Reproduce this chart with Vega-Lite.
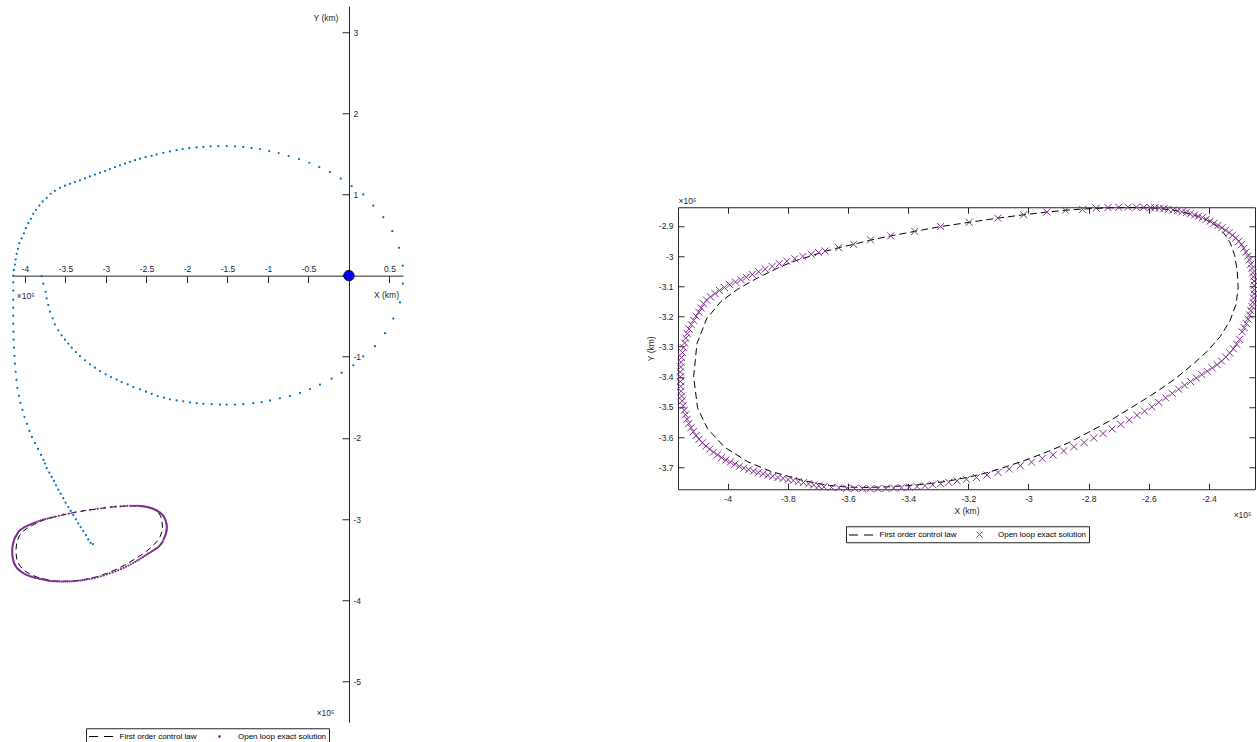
{
"$schema": "https://vega.github.io/schema/vega-lite/v6.json",
"background": "white",
"padding": {"left": 11, "top": 6, "right": 0, "bottom": 0},
"config": {"font": "Liberation Sans", "view": {"stroke": null}, "axis": {"grid": false, "labelFont": "Liberation Sans", "titleFont": "Liberation Sans", "labelColor": "#262626", "titleColor": "#262626", "domainColor": "#262626", "tickColor": "#262626", "labelFontSize": 8.5, "titleFontSize": 8.5, "titleFontWeight": "normal", "labelFlush": false, "labelOverlap": false, "domainWidth": 1, "tickWidth": 1, "format": ".2~f"}},
"datasets": {
"traj": [
{"x":-3.794,"y":-0.005},{"x":-3.774,"y":-0.099},{"x":-3.745,"y":-0.2},{"x":-3.733,"y":-0.282},{"x":-3.712,"y":-0.362},{"x":-3.691,"y":-0.444},{"x":-3.658,"y":-0.527},{"x":-3.63,"y":-0.6},{"x":-3.589,"y":-0.674},{"x":-3.547,"y":-0.736},{"x":-3.506,"y":-0.789},{"x":-3.465,"y":-0.838},{"x":-3.423,"y":-0.888},{"x":-3.37,"y":-0.942},{"x":-3.321,"y":-0.992},{"x":-3.259,"y":-1.044},{"x":-3.198,"y":-1.094},{"x":-3.136,"y":-1.135},{"x":-3.074,"y":-1.176},{"x":-3.004,"y":-1.217},{"x":-2.938,"y":-1.25},{"x":-2.868,"y":-1.282},{"x":-2.806,"y":-1.312},{"x":-2.732,"y":-1.34},{"x":-2.663,"y":-1.373},{"x":-2.58,"y":-1.402},{"x":-2.506,"y":-1.43},{"x":-2.436,"y":-1.459},{"x":-2.362,"y":-1.484},{"x":-2.284,"y":-1.504},{"x":-2.21,"y":-1.525},{"x":-2.128,"y":-1.538},{"x":-2.046,"y":-1.55},{"x":-1.963,"y":-1.564},{"x":-1.88,"y":-1.573},{"x":-1.798,"y":-1.58},{"x":-1.695,"y":-1.585},{"x":-1.593,"y":-1.589},{"x":-1.51,"y":-1.591},{"x":-1.407,"y":-1.59},{"x":-1.305,"y":-1.584},{"x":-1.181,"y":-1.572},{"x":-1.078,"y":-1.558},{"x":-0.975,"y":-1.538},{"x":-0.852,"y":-1.512},{"x":-0.728,"y":-1.484},{"x":-0.605,"y":-1.446},{"x":-0.481,"y":-1.398},{"x":-0.358,"y":-1.344},{"x":-0.214,"y":-1.27},{"x":-0.09,"y":-1.196},{"x":0.053,"y":-1.106},{"x":0.177,"y":-0.995},{"x":0.321,"y":-0.87},{"x":0.444,"y":-0.71},{"x":0.547,"y":-0.53},{"x":0.63,"y":-0.33},{"x":0.665,"y":-0.099},
{"x":0.663,"y":0.123},{"x":0.617,"y":0.342},{"x":0.535,"y":0.547},{"x":0.424,"y":0.72},{"x":0.3,"y":0.864},{"x":0.177,"y":1.0},{"x":0.033,"y":1.102},{"x":-0.102,"y":1.194},{"x":-0.235,"y":1.276},{"x":-0.367,"y":1.337},{"x":-0.49,"y":1.391},{"x":-0.617,"y":1.436},{"x":-0.745,"y":1.473},{"x":-0.868,"y":1.51},{"x":-0.984,"y":1.535},{"x":-1.099,"y":1.56},{"x":-1.202,"y":1.574},{"x":-1.305,"y":1.586},{"x":-1.407,"y":1.593},{"x":-1.51,"y":1.596},{"x":-1.613,"y":1.596},{"x":-1.708,"y":1.593},{"x":-1.798,"y":1.587},{"x":-1.881,"y":1.58},{"x":-1.971,"y":1.57},{"x":-2.053,"y":1.56},{"x":-2.128,"y":1.546},{"x":-2.21,"y":1.531},{"x":-2.292,"y":1.514},{"x":-2.374,"y":1.494},{"x":-2.436,"y":1.477},{"x":-2.51,"y":1.46},{"x":-2.58,"y":1.441},{"x":-2.642,"y":1.423},{"x":-2.704,"y":1.402},{"x":-2.765,"y":1.381},{"x":-2.827,"y":1.359},{"x":-2.889,"y":1.337},{"x":-2.951,"y":1.313},{"x":-3.012,"y":1.289},{"x":-3.074,"y":1.267},{"x":-3.136,"y":1.246},{"x":-3.198,"y":1.222},{"x":-3.259,"y":1.199},{"x":-3.321,"y":1.175},{"x":-3.383,"y":1.153},{"x":-3.444,"y":1.131},{"x":-3.506,"y":1.109},{"x":-3.568,"y":1.083},{"x":-3.63,"y":1.045},
{"x":-3.683,"y":1.009},{"x":-3.732,"y":0.959},{"x":-3.781,"y":0.914},{"x":-3.823,"y":0.864},{"x":-3.864,"y":0.811},{"x":-3.898,"y":0.762},{"x":-3.926,"y":0.7},{"x":-3.959,"y":0.646},{"x":-3.988,"y":0.584},{"x":-4.012,"y":0.522},{"x":-4.041,"y":0.46},{"x":-4.07,"y":0.399},{"x":-4.086,"y":0.33},{"x":-4.102,"y":0.268},{"x":-4.115,"y":0.201},{"x":-4.123,"y":0.136},{"x":-4.136,"y":0.07},{"x":-4.144,"y":0.0},{"x":-4.144,"y":-0.083},{"x":-4.144,"y":-0.185},{"x":-4.144,"y":-0.296},{"x":-4.144,"y":-0.395},{"x":-4.144,"y":-0.494},{"x":-4.144,"y":-0.593},{"x":-4.142,"y":-0.691},{"x":-4.14,"y":-0.79},{"x":-4.136,"y":-0.889},{"x":-4.13,"y":-0.988},{"x":-4.123,"y":-1.086},{"x":-4.115,"y":-1.185},{"x":-4.105,"y":-1.284},{"x":-4.093,"y":-1.383},{"x":-4.074,"y":-1.481},{"x":-4.056,"y":-1.568},{"x":-4.031,"y":-1.654},{"x":-4.006,"y":-1.741},{"x":-3.975,"y":-1.827},{"x":-3.944,"y":-1.914},{"x":-3.914,"y":-1.988},{"x":-3.877,"y":-2.062},{"x":-3.84,"y":-2.136},{"x":-3.802,"y":-2.21},{"x":-3.772,"y":-2.272},{"x":-3.753,"y":-2.317},{"x":-3.732,"y":-2.374},{"x":-3.7,"y":-2.428},{"x":-3.67,"y":-2.481},{"x":-3.642,"y":-2.531},{"x":-3.617,"y":-2.584},{"x":-3.589,"y":-2.638},{"x":-3.559,"y":-2.688},{"x":-3.527,"y":-2.744},{"x":-3.498,"y":-2.799},{"x":-3.465,"y":-2.852},{"x":-3.436,"y":-2.901},{"x":-3.404,"y":-2.951},{"x":-3.37,"y":-3.004},{"x":-3.342,"y":-3.053},{"x":-3.312,"y":-3.099},{"x":-3.28,"y":-3.148},{"x":-3.247,"y":-3.198},{"x":-3.219,"y":-3.251},{"x":-3.189,"y":-3.293},{"x":-3.16,"y":-3.309}
],
"ctrl": [
{"i":0,"x":-3.678,"y":-2.985},{"i":1,"x":-3.631,"y":-2.972},{"i":2,"x":-3.581,"y":-2.961},{"i":3,"x":-3.525,"y":-2.947},{"i":4,"x":-3.458,"y":-2.933},{"i":5,"x":-3.378,"y":-2.918},{"i":6,"x":-3.292,"y":-2.902},{"i":7,"x":-3.197,"y":-2.888},{"i":8,"x":-3.102,"y":-2.874},{"i":9,"x":-3.016,"y":-2.863},{"i":10,"x":-2.939,"y":-2.854},{"i":11,"x":-2.877,"y":-2.848},{"i":12,"x":-2.82,"y":-2.844},{"i":13,"x":-2.736,"y":-2.84},{"i":14,"x":-2.65,"y":-2.839},{"i":15,"x":-2.58,"y":-2.841},{"i":16,"x":-2.52,"y":-2.847},{"i":17,"x":-2.46,"y":-2.86},{"i":18,"x":-2.411,"y":-2.878},{"i":19,"x":-2.375,"y":-2.9},{"i":20,"x":-2.35,"y":-2.925},{"i":21,"x":-2.33,"y":-2.955},{"i":22,"x":-2.315,"y":-2.995},{"i":23,"x":-2.306,"y":-3.049},{"i":24,"x":-2.303,"y":-3.105},{"i":25,"x":-2.31,"y":-3.16},{"i":26,"x":-2.33,"y":-3.214},{"i":27,"x":-2.362,"y":-3.266},{"i":28,"x":-2.405,"y":-3.315},{"i":29,"x":-2.455,"y":-3.36},{"i":30,"x":-2.51,"y":-3.405},{"i":31,"x":-2.57,"y":-3.447},{"i":32,"x":-2.633,"y":-3.487},{"i":33,"x":-2.689,"y":-3.521},{"i":34,"x":-2.733,"y":-3.548},{"i":35,"x":-2.8,"y":-3.584},{"i":36,"x":-2.867,"y":-3.619},{"i":37,"x":-2.933,"y":-3.647},{"i":38,"x":-3.0,"y":-3.673},{"i":39,"x":-3.067,"y":-3.696},{"i":40,"x":-3.133,"y":-3.717},{"i":41,"x":-3.2,"y":-3.733},{"i":42,"x":-3.267,"y":-3.746},{"i":43,"x":-3.333,"y":-3.755},{"i":44,"x":-3.4,"y":-3.761},{"i":45,"x":-3.467,"y":-3.765},{"i":46,"x":-3.533,"y":-3.767},{"i":47,"x":-3.6,"y":-3.766},{"i":48,"x":-3.667,"y":-3.76},{"i":49,"x":-3.745,"y":-3.745},{"i":50,"x":-3.856,"y":-3.714},{"i":51,"x":-3.933,"y":-3.682},{"i":52,"x":-4.011,"y":-3.633},{"i":53,"x":-4.067,"y":-3.572},{"i":54,"x":-4.1,"y":-3.503},{"i":55,"x":-4.113,"y":-3.4},{"i":56,"x":-4.102,"y":-3.29},{"i":57,"x":-4.07,"y":-3.208},{"i":58,"x":-4.022,"y":-3.15},{"i":59,"x":-3.967,"y":-3.11},{"i":60,"x":-3.9,"y":-3.072},{"i":61,"x":-3.822,"y":-3.034},{"i":62,"x":-3.767,"y":-3.013},{"i":63,"x":-3.678,"y":-2.985}
],
"exact": [
{"x":-3.676,"y":-2.983},{"x":-3.631,"y":-2.972},{"x":-3.581,"y":-2.961},{"x":-3.525,"y":-2.946},{"x":-3.458,"y":-2.933},{"x":-3.378,"y":-2.918},{"x":-3.292,"y":-2.902},{"x":-3.197,"y":-2.888},{"x":-3.102,"y":-2.874},{"x":-3.016,"y":-2.863},{"x":-2.939,"y":-2.854},{"x":-2.877,"y":-2.848},{"x":-2.82,"y":-2.845},{"x":-2.775,"y":-2.841},{"x":-2.736,"y":-2.839},{"x":-2.7,"y":-2.838},{"x":-2.669,"y":-2.838},{"x":-2.641,"y":-2.838},{"x":-2.617,"y":-2.838},{"x":-2.595,"y":-2.839},
{"x":-2.58,"y":-2.84},{"x":-2.565,"y":-2.841},{"x":-2.55,"y":-2.843},{"x":-2.535,"y":-2.845},{"x":-2.52,"y":-2.847},{"x":-2.505,"y":-2.85},{"x":-2.49,"y":-2.853},{"x":-2.476,"y":-2.856},{"x":-2.462,"y":-2.86},{"x":-2.448,"y":-2.864},{"x":-2.435,"y":-2.868},{"x":-2.422,"y":-2.872},{"x":-2.409,"y":-2.878},{"x":-2.396,"y":-2.884},{"x":-2.383,"y":-2.891},{"x":-2.37,"y":-2.898},{"x":-2.357,"y":-2.906},{"x":-2.345,"y":-2.914},{"x":-2.333,"y":-2.922},{"x":-2.322,"y":-2.931},{"x":-2.311,"y":-2.94},{"x":-2.301,"y":-2.951},{"x":-2.292,"y":-2.962},{"x":-2.284,"y":-2.974},{"x":-2.277,"y":-2.987},{"x":-2.271,"y":-3.0},{"x":-2.266,"y":-3.013},{"x":-2.261,"y":-3.027},{"x":-2.257,"y":-3.041},{"x":-2.254,"y":-3.055},{"x":-2.252,"y":-3.069},{"x":-2.25,"y":-3.083},{"x":-2.249,"y":-3.097},{"x":-2.249,"y":-3.111},{"x":-2.25,"y":-3.125},{"x":-2.252,"y":-3.139},{"x":-2.254,"y":-3.153},{"x":-2.257,"y":-3.167},{"x":-2.261,"y":-3.181},{"x":-2.265,"y":-3.195},{"x":-2.27,"y":-3.209},{"x":-2.276,"y":-3.223},{"x":-2.283,"y":-3.237},{"x":-2.29,"y":-3.251},
{"x":-2.298,"y":-3.276},{"x":-2.308,"y":-3.292},{"x":-2.319,"y":-3.307},{"x":-2.331,"y":-3.321},{"x":-2.344,"y":-3.335},{"x":-2.358,"y":-3.348},{"x":-2.373,"y":-3.36},{"x":-2.389,"y":-3.371},{"x":-2.406,"y":-3.382},{"x":-2.424,"y":-3.393},{"x":-2.442,"y":-3.404},{"x":-2.461,"y":-3.416},{"x":-2.481,"y":-3.428},{"x":-2.501,"y":-3.441},{"x":-2.522,"y":-3.455},{"x":-2.544,"y":-3.47},{"x":-2.567,"y":-3.485},{"x":-2.59,"y":-3.5},{"x":-2.614,"y":-3.514},{"x":-2.639,"y":-3.528},{"x":-2.665,"y":-3.543},{"x":-2.693,"y":-3.558},{"x":-2.722,"y":-3.573},{"x":-2.752,"y":-3.588},{"x":-2.783,"y":-3.603},{"x":-2.815,"y":-3.618},{"x":-2.849,"y":-3.632},{"x":-2.883,"y":-3.646},{"x":-2.918,"y":-3.659},{"x":-2.954,"y":-3.671},{"x":-2.99,"y":-3.683},{"x":-3.027,"y":-3.695},{"x":-3.064,"y":-3.706},{"x":-3.101,"y":-3.717},{"x":-3.138,"y":-3.726},{"x":-3.173,"y":-3.734},{"x":-3.206,"y":-3.74},{"x":-3.237,"y":-3.745},
{"x":-3.265,"y":-3.75},{"x":-3.292,"y":-3.754},{"x":-3.318,"y":-3.758},{"x":-3.344,"y":-3.761},{"x":-3.37,"y":-3.764},{"x":-3.396,"y":-3.766},{"x":-3.422,"y":-3.768},{"x":-3.448,"y":-3.769},{"x":-3.474,"y":-3.77},{"x":-3.5,"y":-3.771},{"x":-3.526,"y":-3.771},{"x":-3.552,"y":-3.771},{"x":-3.578,"y":-3.77},{"x":-3.604,"y":-3.77},{"x":-3.63,"y":-3.768},{"x":-3.655,"y":-3.767},{"x":-3.68,"y":-3.765},
{"x":-3.697,"y":-3.762},{"x":-3.714,"y":-3.759},{"x":-3.731,"y":-3.755},{"x":-3.748,"y":-3.751},{"x":-3.765,"y":-3.748},{"x":-3.782,"y":-3.744},{"x":-3.799,"y":-3.741},{"x":-3.816,"y":-3.737},{"x":-3.833,"y":-3.734},{"x":-3.85,"y":-3.73},{"x":-3.866,"y":-3.727},{"x":-3.882,"y":-3.722},{"x":-3.898,"y":-3.718},{"x":-3.914,"y":-3.713},{"x":-3.93,"y":-3.708},{"x":-3.946,"y":-3.703},{"x":-3.961,"y":-3.697},{"x":-3.976,"y":-3.69},{"x":-3.991,"y":-3.683},{"x":-4.006,"y":-3.676},{"x":-4.02,"y":-3.668},{"x":-4.034,"y":-3.659},{"x":-4.047,"y":-3.65},{"x":-4.06,"y":-3.64},{"x":-4.072,"y":-3.63},{"x":-4.084,"y":-3.619},{"x":-4.095,"y":-3.607},{"x":-4.105,"y":-3.595},{"x":-4.114,"y":-3.582},{"x":-4.122,"y":-3.569},{"x":-4.129,"y":-3.555},{"x":-4.135,"y":-3.541},{"x":-4.14,"y":-3.526},{"x":-4.144,"y":-3.511},{"x":-4.148,"y":-3.496},{"x":-4.151,"y":-3.48},{"x":-4.153,"y":-3.464},{"x":-4.155,"y":-3.448},{"x":-4.156,"y":-3.432},{"x":-4.157,"y":-3.416},{"x":-4.157,"y":-3.4},{"x":-4.157,"y":-3.384},{"x":-4.156,"y":-3.368},{"x":-4.155,"y":-3.352},{"x":-4.153,"y":-3.336},{"x":-4.15,"y":-3.32},{"x":-4.147,"y":-3.304},{"x":-4.143,"y":-3.288},{"x":-4.139,"y":-3.272},{"x":-4.134,"y":-3.257},{"x":-4.128,"y":-3.242},{"x":-4.121,"y":-3.227},{"x":-4.113,"y":-3.213},{"x":-4.105,"y":-3.199},{"x":-4.096,"y":-3.186},{"x":-4.088,"y":-3.172},{"x":-4.08,"y":-3.158},{"x":-4.07,"y":-3.146},{"x":-4.057,"y":-3.135},{"x":-4.042,"y":-3.124},{"x":-4.027,"y":-3.114},{"x":-4.011,"y":-3.104},{"x":-3.993,"y":-3.095},{"x":-3.974,"y":-3.086},{"x":-3.956,"y":-3.078},{"x":-3.938,"y":-3.07},{"x":-3.918,"y":-3.061},{"x":-3.897,"y":-3.052},{"x":-3.875,"y":-3.043},{"x":-3.852,"y":-3.034},{"x":-3.828,"y":-3.025},{"x":-3.803,"y":-3.017},{"x":-3.777,"y":-3.009},{"x":-3.75,"y":-3.001},{"x":-3.722,"y":-2.994},{"x":-3.698,"y":-2.988}
]
},
"spacing": 242,
"center": true,
"resolve": {"scale": {"color": "independent", "x": "independent", "y": "independent"}, "legend": {"color": "independent"}},
"hconcat": [
{
"width": 391, "height": 716,
"view": {"stroke": null},
"encoding": {
 "x": {"field": "x", "type": "quantitative", "scale": {"domain": [-4.16, 0.667], "nice": false, "zero": false},
   "axis": {"orient": "bottom", "offset": -446.6, "values": [-4,-3.5,-3,-2.5,-2,-1.5,-1,-0.5,0,0.5], "format": ".1~f", "labelExpr": "datum.value == 0 ? '' : replace(datum.label, '\u2212', '-')", "tickSize": 7, "labelPadding": -11, "labelBaseline": "alphabetic", "title": "X (km)", "titleX": 374, "titleY": 19, "titleAlign": "center", "titleBaseline": "middle", "titleAngle": 0}},
 "y": {"field": "y", "type": "quantitative", "scale": {"domain": [-5.505, 3.32], "nice": false, "zero": false},
   "axis": {"orient": "left", "offset": -337, "values": [-5,-4,-3,-2,-1,0,1,2,3], "format": ".1~f", "labelExpr": "datum.value == 0 ? '' : replace(datum.label, '\u2212', '-')", "tickSize": 7, "labelPadding": -11, "labelAlign": "left", "labelBaseline": "middle", "title": "Y (km)", "titleX": -23.5, "titleY": 11, "titleAlign": "center", "titleBaseline": "middle", "titleAngle": 0}}
},
"layer": [
 {"data": {"name": "traj"}, "mark": {"type": "point", "filled": true, "shape": "circle", "size": 5, "opacity": 1, "color": "#0072BD"}},
 {"data": {"name": "ctrl"}, "mark": {"type": "line", "strokeDash": [6, 4], "strokeWidth": 1},
  "encoding": {"order": {"field": "i"},
   "color": {"datum": "First order control law", "scale": {"domain": ["First order control law", "Open loop exact solution"], "range": ["#000000", "#7E2F8E"]},
     "legend": {"orient": "none", "legendX": 74, "legendY": 722, "direction": "horizontal", "title": null, "strokeColor": "#262626", "fillColor": "white", "padding": 2.5, "labelFontSize": 8, "labelFont": "Liberation Sans", "labelColor": "#000000", "symbolSize": 100, "labelOffset": 20, "columnPadding": 10.5,
       "encode": {"symbols": {"update": {
         "shape": {"signal": "datum.value === 'First order control law' ? 'M-1,0H0.8M2,0H3.8' : 'M1.6,0A0.2,0.2,0,1,1,1.2,0A0.2,0.2,0,1,1,1.6,0Z'"},
         "stroke": {"signal": "datum.value === 'First order control law' ? '#000000' : '#7E2F8E'"},
         "fill": {"signal": "datum.value === 'First order control law' ? 'transparent' : '#7E2F8E'"},
         "strokeWidth": {"value": 1}, "strokeDash": {"value": []}, "opacity": {"value": 1}}}}}}}},
 {"data": {"name": "exact"}, "mark": {"type": "point", "filled": true, "shape": "circle", "size": 5, "opacity": 1},
  "encoding": {"color": {"datum": "Open loop exact solution"}}},
 {"data": {"values": [{"x": 0, "y": 0}]}, "mark": {"type": "point", "filled": true, "shape": "circle", "size": 110, "opacity": 1, "fill": "#0000FF", "stroke": "#000000", "strokeWidth": 0.8}},
 {"data": {"values": [{"x": -4.1, "y": -0.255, "t": "×10⁵"}, {"x": -0.399, "y": -5.393, "t": "×10⁵"}]},
  "mark": {"type": "text", "align": "left", "baseline": "middle", "fontSize": 8.5, "color": "#262626"},
  "encoding": {"text": {"field": "t"}}}
]
},
{
"width": 577, "height": 282,
"view": {"stroke": null},
"resolve": {"axis": {"x": "independent", "y": "independent"}},
"layer": [
 {"data": {"name": "ctrl"}, "mark": {"type": "line", "strokeDash": [7, 4], "strokeWidth": 1},
  "encoding": {
   "x": {"field": "x", "type": "quantitative", "scale": {"domain": [-4.165, -2.247], "nice": false, "zero": false},
     "axis": {"orient": "bottom", "values": [-4,-3.8,-3.6,-3.4,-3.2,-3,-2.8,-2.6,-2.4], "format": ".1~f", "labelExpr": "replace(datum.label, '\u2212', '-')", "tickSize": -6, "labelPadding": 11, "title": "X (km)", "titlePadding": 4}},
   "y": {"field": "y", "type": "quantitative", "scale": {"domain": [-3.773, -2.838], "nice": false, "zero": false},
     "axis": {"orient": "left", "values": [-3.7,-3.6,-3.5,-3.4,-3.3,-3.2,-3.1,-3,-2.9], "format": ".1~f", "labelExpr": "replace(datum.label, '\u2212', '-')", "tickSize": -6, "labelPadding": 11, "title": "Y (km)", "titlePadding": 3}},
   "order": {"field": "i"},
   "color": {"datum": "First order control law", "scale": {"domain": ["First order control law", "Open loop exact solution"], "range": ["#000000", "#7E2F8E"]},
     "legend": {"orient": "none", "legendX": 168, "legendY": 319, "direction": "horizontal", "title": null, "strokeColor": "#262626", "fillColor": "white", "padding": 2.5, "labelFontSize": 8, "labelFont": "Liberation Sans", "labelColor": "#000000", "symbolSize": 100, "labelOffset": 20, "columnPadding": 10.5,
       "encode": {"symbols": {"update": {
         "shape": {"signal": "datum.value === 'First order control law' ? 'M-1,0H0.8M2,0H3.8' : 'M0.8,-0.6L2,0.6M2,-0.6L0.8,0.6'"},
         "stroke": {"signal": "datum.value === 'First order control law' ? '#000000' : '#7E2F8E'"},
         "fill": {"value": "transparent"},
         "strokeWidth": {"value": 1}, "strokeDash": {"value": []}, "opacity": {"value": 1}}}}}}}},
 {"data": {"name": "exact"}, "mark": {"type": "point", "filled": false, "shape": "M-1,-1L1,1M1,-1L-1,1", "size": 49, "strokeWidth": 1, "opacity": 1},
  "encoding": {
   "x": {"field": "x", "type": "quantitative", "axis": {"orient": "top", "values": [-4,-3.8,-3.6,-3.4,-3.2,-3,-2.8,-2.6,-2.4], "tickSize": -6, "labels": false, "title": null}},
   "y": {"field": "y", "type": "quantitative", "axis": {"orient": "right", "values": [-3.7,-3.6,-3.5,-3.4,-3.3,-3.2,-3.1,-3,-2.9], "tickSize": -6, "labels": false, "title": null}},
   "color": {"datum": "Open loop exact solution"}}},
 {"data": {"values": [{"x": -4.163, "y": -2.817, "t": "×10⁵"}, {"x": -2.318, "y": -3.857, "t": "×10⁵"}]},
  "mark": {"type": "text", "align": "left", "baseline": "middle", "fontSize": 8.5, "color": "#262626"},
  "encoding": {
   "x": {"field": "x", "type": "quantitative", "axis": null},
   "y": {"field": "y", "type": "quantitative", "axis": null},
   "text": {"field": "t"}}}
]
}
]
}
